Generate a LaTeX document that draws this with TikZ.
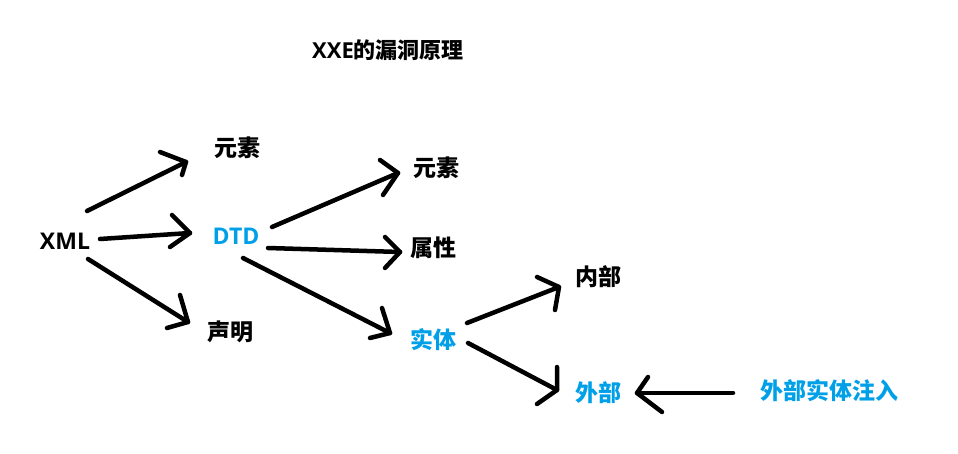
\documentclass[tikz,border=0pt]{standalone}
\usepackage{fontspec}
\setmainfont{Open Sans}
\newfontfamily\cjk{Noto Sans CJK SC}
\begin{document}
\begin{tikzpicture}[x=1pt,y=-1pt,
  lbl/.style={font=\fontsize{23}{25}\selectfont\bfseries, inner sep=0pt, anchor=center},
  blu/.style={text=xblue},
  stroke/.style={line width=4.5pt, line cap=round, line join=round, black}]
\definecolor{xblue}{RGB}{0,160,233}
\useasboundingbox[fill=white] (0,0) rectangle (958,454);
% labels
\node[lbl] (title) at (388,50) {\fontsize{22}{24}\selectfont XXE{\cjk 的漏洞原理}};
\node[lbl] (xml) at (65,241) {XML};
\node[lbl,blu] (dtd) at (236,236) {DTD};
\node[lbl] (ys1) at (237,148) {\cjk 元素};
\node[lbl] (sm) at (230,332) {\cjk 声明};
\node[lbl] (ys2) at (436,168) {\cjk 元素};
\node[lbl] (sx) at (433,248) {\cjk 属性};
\node[lbl,blu] (st) at (433,340) {\cjk 实体};
\node[lbl] (nb) at (598,277) {\cjk 内部};
\node[lbl,blu] (wb) at (598,393) {\cjk 外部};
\node[lbl,blu] (inj) at (829,391) {\cjk 外部实体注入};
% connector end points
\coordinate (s1) at (87,211);  \coordinate (t1) at (186,162);
\coordinate (p1) at (160,152); \coordinate (q1) at (182,175);
\coordinate (s2) at (100,239); \coordinate (t2) at (190,233);
\coordinate (p2) at (172,215); \coordinate (q2) at (170,247);
\coordinate (s3) at (88,259);  \coordinate (t3) at (188,322);
\coordinate (p3) at (180,295); \coordinate (q3) at (167,328);
\coordinate (s4) at (272,227); \coordinate (t4) at (398,173);
\coordinate (p4) at (380,160); \coordinate (q4) at (383,195);
\coordinate (s5) at (268,248); \coordinate (t5) at (400,252);
\coordinate (p5) at (385,237); \coordinate (q5) at (385,268);
\coordinate (s6) at (243,258); \coordinate (t6) at (390,333);
\coordinate (p6) at (382,308); \coordinate (q6) at (370,338);
\coordinate (s7) at (467,323); \coordinate (t7) at (559,287);
\coordinate (p7) at (537,277); \coordinate (q7) at (555,310);
\coordinate (s8) at (468,343); \coordinate (t8) at (557,390);
\coordinate (p8) at (557,367); \coordinate (q8) at (537,404);
\coordinate (s9) at (733,393); \coordinate (t9) at (637,393);
\coordinate (p9) at (648,377); \coordinate (q9) at (662,412);
\foreach \i in {1,...,9}{
  \draw[stroke] (s\i) -- (t\i);
  \draw[stroke] (p\i) -- (t\i) -- (q\i);
}
\end{tikzpicture}
\end{document}
